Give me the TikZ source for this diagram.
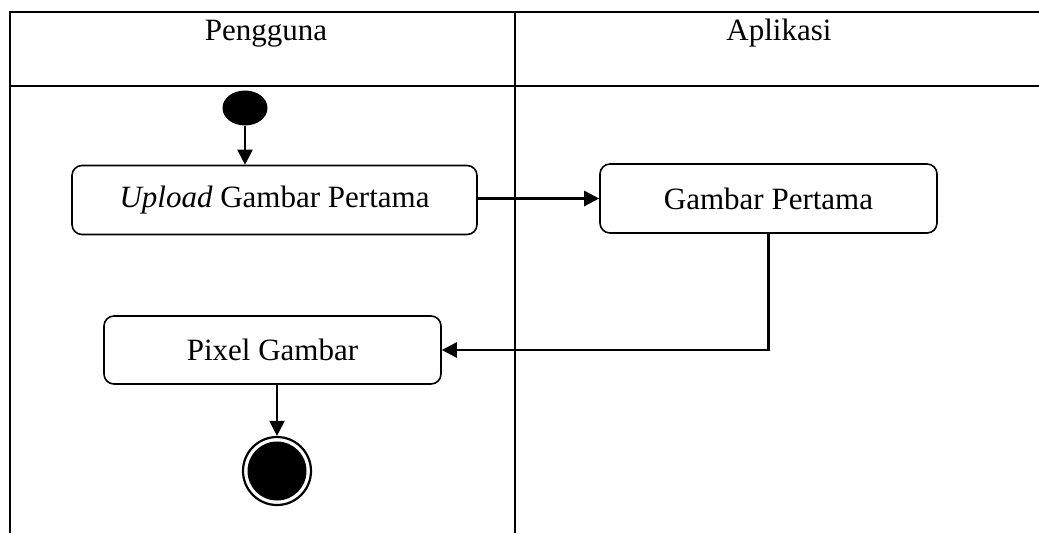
\documentclass[tikz,border=0pt]{standalone}
\usepackage{fontspec}
\setmainfont{Liberation Serif}
\usetikzlibrary{shapes.geometric,arrows.meta}
\begin{document}
\begin{tikzpicture}[x=1pt,y=-1pt,
  lane/.style={line width=2.4pt},
  actbox/.style={draw, rounded corners=10pt, line width=1.6pt, inner sep=0pt,
    font=\fontsize{31}{36}\selectfont},
  flow/.style={line width=2.6pt, -{Triangle[length=15pt,width=15pt]}},
  lanetitle/.style={anchor=base, font=\fontsize{31}{36}\selectfont}]
\useasboundingbox (0,0) rectangle (1039,533);

% swimlane frame
\draw[lane] (1039,12) -- (10,12) -- (10,533);
\draw[lane] (10,86) -- (1039,86);
\draw[lane] (515,12) -- (515,533);
\node[lanetitle] (t1) at (266,40) {Pengguna};
\node[lanetitle] (t2) at (779,40) {Aplikasi};

% initial and final states
\node[ellipse, fill, minimum width=45pt, minimum height=35pt, inner sep=0pt] (start) at (245,108) {};
\node[circle, draw, line width=2.2pt, minimum size=68pt, inner sep=0pt] (end) at (277,471) {};
\fill (end.center) circle (29.5);

% activities
\node[actbox, minimum width=405pt, minimum height=69pt] (up) at (274.5,200) {\textit{Upload} Gambar Pertama};
\node[actbox, minimum width=337pt, minimum height=69pt] (img) at (768.5,198.5) {Gambar Pertama};
\node[actbox, minimum width=337pt, minimum height=68pt] (px) at (272.5,350) {Pixel Gambar};

% transitions
\draw[flow, line width=2pt] (start) -- (start |- up.north);
\draw[flow] (up.east |- img.west) -- (img.west);
\draw[flow] (img.south) |- (px.east);
\draw[flow, line width=2pt] (end |- px.south) -- (end.north);
\end{tikzpicture}
\end{document}
